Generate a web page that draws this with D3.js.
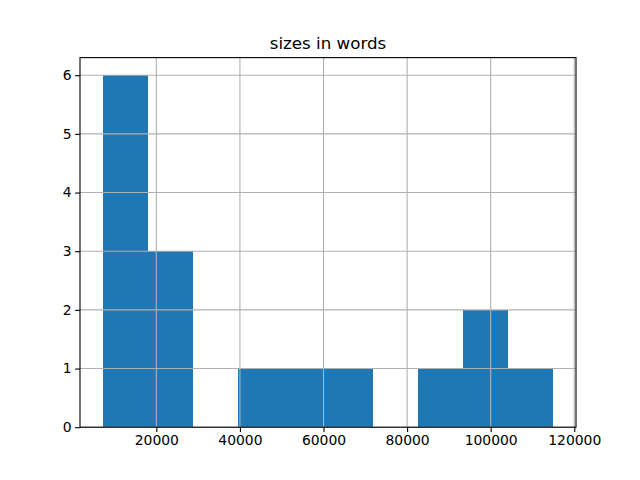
<!DOCTYPE html>
<html><head><meta charset="utf-8">
<script src="https://cdn.jsdelivr.net/npm/d3@7"></script>
<style>body{margin:0;background:#fff}svg text{font-family:"DejaVu Sans",sans-serif;fill:#000}</style>
</head><body>
<svg id="c" width="640" height="480"></svg>
<script>
const title = "sizes in words";
const dataMin = 7130;
const dataMax = 115020;
const counts = [6, 3, 0, 1, 1, 1, 0, 1, 2, 1];
const xTicks = [20000, 40000, 60000, 80000, 100000, 120000];
const yTicks = [0, 1, 2, 3, 4, 5, 6];

const W = 640, H = 480;
const m = {l: 80, r: 576, t: 57.6, b: 427.2};
const svg = d3.select("#c");
const nb = counts.length;
const bw = (dataMax - dataMin) / nb;
const bins = counts.map((c, i) => ({x0: dataMin + i * bw, x1: dataMin + (i + 1) * bw, c}));
const R = dataMax - dataMin;
const x = d3.scaleLinear().domain([dataMin - 0.05 * R, dataMax + 0.05 * R]).range([m.l, m.r]);
const ymax = d3.max(counts) * 1.05;
const y = d3.scaleLinear().domain([0, ymax]).range([m.b, m.t]);

svg.append("g").selectAll("rect").data(bins).join("rect")
  .attr("x", d => x(d.x0)).attr("width", d => x(d.x1) - x(d.x0))
  .attr("y", d => y(d.c)).attr("height", d => y(0) - y(d.c))
  .attr("fill", "#1f77b4").attr("shape-rendering", "crispEdges");

// grid on top
const g = svg.append("g").attr("stroke", "#b0b0b0").attr("stroke-width", 1.1);
xTicks.forEach(t => g.append("line").attr("x1", x(t)).attr("x2", x(t)).attr("y1", m.t).attr("y2", m.b));
yTicks.forEach(t => g.append("line").attr("x1", m.l).attr("x2", m.r).attr("y1", y(t)).attr("y2", y(t)));

const xAxis = d3.axisBottom(x).tickValues(xTicks).tickFormat(d3.format("d")).tickSizeOuter(0).tickSize(4.9).tickPadding(3.5);
const yAxis = d3.axisLeft(y).tickValues(yTicks).tickFormat(d3.format("d")).tickSizeOuter(0).tickSize(4.9).tickPadding(3.5);
const gx = svg.append("g").attr("transform", `translate(0,${m.b})`).call(xAxis);
const gy = svg.append("g").attr("transform", `translate(${m.l},0)`).call(yAxis);
[gx, gy].forEach(a => {
  a.select(".domain").remove();
  a.selectAll("line").attr("stroke", "#000").attr("stroke-width", 1.1);
  a.selectAll("text").attr("font-size", "13.9px").attr("font-family", "DejaVu Sans").attr("fill", "#000");
});
svg.append("rect").attr("x", m.l).attr("y", m.t).attr("width", m.r - m.l).attr("height", m.b - m.t)
  .attr("fill", "none").attr("stroke", "#000").attr("stroke-width", 1.1);

svg.append("text").attr("x", (m.l + m.r) / 2).attr("y", m.t - 8.3)
  .attr("text-anchor", "middle").attr("font-size", "16.7px").text(title);
</script>
</body></html>
